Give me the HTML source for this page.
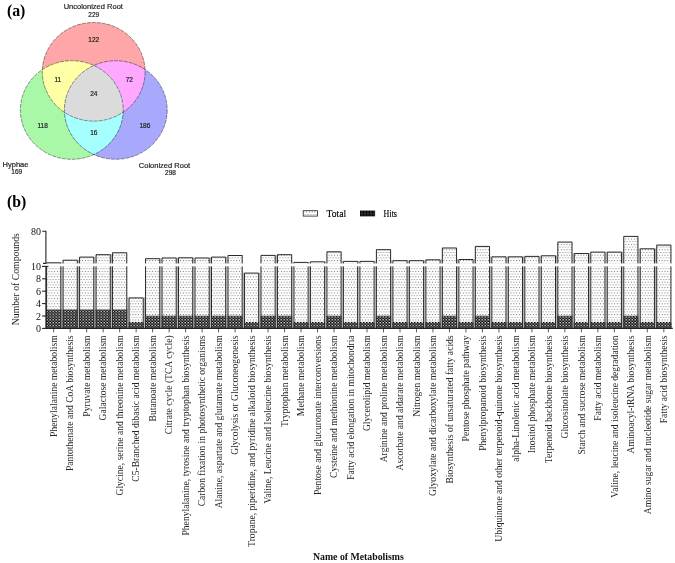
<!DOCTYPE html>
<html><head><meta charset="utf-8"><title>Figure</title>
<style>html,body{margin:0;padding:0;background:#fff;}body{width:675px;height:563px;overflow:hidden;}svg{display:block;will-change:transform;}</style>
</head><body><svg width="675" height="563" viewBox="0 0 675 563"><defs><clipPath id="cR"><ellipse cx="93.7" cy="71.8" rx="51.4" ry="49.3" /></clipPath><clipPath id="cG"><ellipse cx="71.8" cy="110" rx="51.4" ry="49.3" /></clipPath><clipPath id="cB"><ellipse cx="115.8" cy="110" rx="51.4" ry="49.3" /></clipPath><pattern id="dots" patternUnits="userSpaceOnUse" x="0" y="0" width="2.8" height="5.4"><rect width="2.8" height="5.4" fill="#fff"/><rect x="0.9" y="0.9" width="1" height="1" fill="#707070"/><rect x="2.3" y="3.6" width="1" height="1" fill="#808080"/><rect x="-0.5" y="3.6" width="1" height="1" fill="#808080"/></pattern><pattern id="hatch" patternUnits="userSpaceOnUse" x="0" y="0" width="3" height="2.8"><rect width="3" height="2.8" fill="#050505"/><rect x="1.5" y="0" width="1.4" height="1.3" fill="#eeeeee"/><rect x="0.1" y="1.4" width="1.3" height="1.2" fill="#a0a0a0"/></pattern><pattern id="hatchL" patternUnits="userSpaceOnUse" x="0" y="0" width="3" height="2.8"><rect width="3" height="2.8" fill="#0a0a0a"/><rect x="1.5" y="0.3" width="1" height="1" fill="#999"/></pattern></defs><g><ellipse cx="93.7" cy="71.8" rx="51.4" ry="49.3" fill="#ffa6a8"/><ellipse cx="71.8" cy="110" rx="51.4" ry="49.3" fill="#a8f8a8"/><ellipse cx="115.8" cy="110" rx="51.4" ry="49.3" fill="#a8a8fc"/><g clip-path="url(#cR)"><ellipse cx="71.8" cy="110" rx="51.4" ry="49.3" fill="#ffffa6"/></g><g clip-path="url(#cR)"><ellipse cx="115.8" cy="110" rx="51.4" ry="49.3" fill="#ffa8ff"/></g><g clip-path="url(#cG)"><ellipse cx="115.8" cy="110" rx="51.4" ry="49.3" fill="#a6ffff"/></g><g clip-path="url(#cR)"><g clip-path="url(#cG)"><ellipse cx="115.8" cy="110" rx="51.4" ry="49.3" fill="#dbdbdb"/></g></g><ellipse cx="93.7" cy="71.8" rx="51.4" ry="49.3" fill="none" stroke="rgba(0,0,0,0.55)" stroke-width="0.75" stroke-dasharray="4 1"/><ellipse cx="71.8" cy="110" rx="51.4" ry="49.3" fill="none" stroke="rgba(0,0,0,0.55)" stroke-width="0.75" stroke-dasharray="4 1"/><ellipse cx="115.8" cy="110" rx="51.4" ry="49.3" fill="none" stroke="rgba(0,0,0,0.55)" stroke-width="0.75" stroke-dasharray="4 1"/></g><text x="93.3" y="8.6" font-family="Liberation Sans, sans-serif" font-size="7.5" text-anchor="middle" fill="#1e1e1e" stroke="#1e1e1e" stroke-width="0.2" >Uncolonized Root</text><text x="93.7" y="16.6" font-family="Liberation Sans, sans-serif" font-size="6.5" text-anchor="middle" fill="#1e1e1e" stroke="#1e1e1e" stroke-width="0.2" >229</text><text x="15.5" y="166.9" font-family="Liberation Sans, sans-serif" font-size="7.5" text-anchor="middle" fill="#1e1e1e" stroke="#1e1e1e" stroke-width="0.2" >Hyphae</text><text x="16.7" y="174.4" font-family="Liberation Sans, sans-serif" font-size="6.5" text-anchor="middle" fill="#1e1e1e" stroke="#1e1e1e" stroke-width="0.2" >169</text><text x="164.5" y="167.5" font-family="Liberation Sans, sans-serif" font-size="7.5" text-anchor="middle" fill="#1e1e1e" stroke="#1e1e1e" stroke-width="0.2" >Colonized Root</text><text x="170.5" y="174.9" font-family="Liberation Sans, sans-serif" font-size="6.5" text-anchor="middle" fill="#1e1e1e" stroke="#1e1e1e" stroke-width="0.2" >298</text><text x="93.7" y="41.9" font-family="Liberation Sans, sans-serif" font-size="6.5" text-anchor="middle" fill="#1e1e1e" stroke="#1e1e1e" stroke-width="0.2" >122</text><text x="57.8" y="81.6" font-family="Liberation Sans, sans-serif" font-size="6.5" text-anchor="middle" fill="#1e1e1e" stroke="#1e1e1e" stroke-width="0.2" >11</text><text x="129.3" y="81.6" font-family="Liberation Sans, sans-serif" font-size="6.5" text-anchor="middle" fill="#1e1e1e" stroke="#1e1e1e" stroke-width="0.2" >72</text><text x="93.8" y="96" font-family="Liberation Sans, sans-serif" font-size="6.5" text-anchor="middle" fill="#1e1e1e" stroke="#1e1e1e" stroke-width="0.2" >24</text><text x="42.6" y="128.1" font-family="Liberation Sans, sans-serif" font-size="6.5" text-anchor="middle" fill="#1e1e1e" stroke="#1e1e1e" stroke-width="0.2" >118</text><text x="144.9" y="128.1" font-family="Liberation Sans, sans-serif" font-size="6.5" text-anchor="middle" fill="#1e1e1e" stroke="#1e1e1e" stroke-width="0.2" >186</text><text x="93.8" y="135.4" font-family="Liberation Sans, sans-serif" font-size="6.5" text-anchor="middle" fill="#1e1e1e" stroke="#1e1e1e" stroke-width="0.2" >16</text><text x="6.9" y="16.3" font-family="Liberation Serif, serif" font-size="15.8" text-anchor="start" fill="#000" font-weight="bold">(a)</text><text x="6.9" y="206.6" font-family="Liberation Serif, serif" font-size="15.8" text-anchor="start" fill="#000" font-weight="bold">(b)</text><rect x="61.3" y="262.3" width="1.29" height="1.1" fill="#b4b4b4"/><rect x="61.3" y="266.4" width="1.29" height="62" fill="#b4b4b4"/><rect x="77.79" y="259.7" width="1.29" height="3.7" fill="#b4b4b4"/><rect x="77.79" y="266.4" width="1.29" height="62" fill="#b4b4b4"/><rect x="94.28" y="256.6" width="1.29" height="6.8" fill="#b4b4b4"/><rect x="94.28" y="266.4" width="1.29" height="62" fill="#b4b4b4"/><rect x="110.77" y="254.2" width="1.29" height="9.2" fill="#b4b4b4"/><rect x="110.77" y="266.4" width="1.29" height="62" fill="#b4b4b4"/><rect x="127.26" y="297.4" width="1.29" height="31" fill="#b4b4b4"/><rect x="143.75" y="297.4" width="1.29" height="31" fill="#b4b4b4"/><rect x="160.24" y="258.2" width="1.29" height="5.2" fill="#b4b4b4"/><rect x="160.24" y="266.4" width="1.29" height="62" fill="#b4b4b4"/><rect x="176.73" y="257.5" width="1.29" height="5.9" fill="#b4b4b4"/><rect x="176.73" y="266.4" width="1.29" height="62" fill="#b4b4b4"/><rect x="193.22" y="257.5" width="1.29" height="5.9" fill="#b4b4b4"/><rect x="193.22" y="266.4" width="1.29" height="62" fill="#b4b4b4"/><rect x="209.71" y="257.5" width="1.29" height="5.9" fill="#b4b4b4"/><rect x="209.71" y="266.4" width="1.29" height="62" fill="#b4b4b4"/><rect x="226.2" y="256.6" width="1.29" height="6.8" fill="#b4b4b4"/><rect x="226.2" y="266.4" width="1.29" height="62" fill="#b4b4b4"/><rect x="242.69" y="272.6" width="1.29" height="55.8" fill="#b4b4b4"/><rect x="259.18" y="272.6" width="1.29" height="55.8" fill="#b4b4b4"/><rect x="275.67" y="254.9" width="1.29" height="8.5" fill="#b4b4b4"/><rect x="275.67" y="266.4" width="1.29" height="62" fill="#b4b4b4"/><rect x="292.16" y="261.9" width="1.29" height="1.5" fill="#b4b4b4"/><rect x="292.16" y="266.4" width="1.29" height="62" fill="#b4b4b4"/><rect x="308.65" y="261.9" width="1.29" height="1.5" fill="#b4b4b4"/><rect x="308.65" y="266.4" width="1.29" height="62" fill="#b4b4b4"/><rect x="325.14" y="261.3" width="1.29" height="2.1" fill="#b4b4b4"/><rect x="325.14" y="266.4" width="1.29" height="62" fill="#b4b4b4"/><rect x="341.63" y="260.9" width="1.29" height="2.5" fill="#b4b4b4"/><rect x="341.63" y="266.4" width="1.29" height="62" fill="#b4b4b4"/><rect x="358.12" y="260.9" width="1.29" height="2.5" fill="#b4b4b4"/><rect x="358.12" y="266.4" width="1.29" height="62" fill="#b4b4b4"/><rect x="374.61" y="260.9" width="1.29" height="2.5" fill="#b4b4b4"/><rect x="374.61" y="266.4" width="1.29" height="62" fill="#b4b4b4"/><rect x="391.1" y="260.2" width="1.29" height="3.2" fill="#b4b4b4"/><rect x="391.1" y="266.4" width="1.29" height="62" fill="#b4b4b4"/><rect x="407.59" y="260.2" width="1.29" height="3.2" fill="#b4b4b4"/><rect x="407.59" y="266.4" width="1.29" height="62" fill="#b4b4b4"/><rect x="424.08" y="260.2" width="1.29" height="3.2" fill="#b4b4b4"/><rect x="424.08" y="266.4" width="1.29" height="62" fill="#b4b4b4"/><rect x="440.57" y="259.3" width="1.29" height="4.1" fill="#b4b4b4"/><rect x="440.57" y="266.4" width="1.29" height="62" fill="#b4b4b4"/><rect x="457.06" y="259" width="1.29" height="4.4" fill="#b4b4b4"/><rect x="457.06" y="266.4" width="1.29" height="62" fill="#b4b4b4"/><rect x="473.55" y="259" width="1.29" height="4.4" fill="#b4b4b4"/><rect x="473.55" y="266.4" width="1.29" height="62" fill="#b4b4b4"/><rect x="490.04" y="256.3" width="1.29" height="7.1" fill="#b4b4b4"/><rect x="490.04" y="266.4" width="1.29" height="62" fill="#b4b4b4"/><rect x="506.53" y="256.3" width="1.29" height="7.1" fill="#b4b4b4"/><rect x="506.53" y="266.4" width="1.29" height="62" fill="#b4b4b4"/><rect x="523.02" y="256.3" width="1.29" height="7.1" fill="#b4b4b4"/><rect x="523.02" y="266.4" width="1.29" height="62" fill="#b4b4b4"/><rect x="539.51" y="255.9" width="1.29" height="7.5" fill="#b4b4b4"/><rect x="539.51" y="266.4" width="1.29" height="62" fill="#b4b4b4"/><rect x="556" y="255.3" width="1.29" height="8.1" fill="#b4b4b4"/><rect x="556" y="266.4" width="1.29" height="62" fill="#b4b4b4"/><rect x="572.49" y="253" width="1.29" height="10.4" fill="#b4b4b4"/><rect x="572.49" y="266.4" width="1.29" height="62" fill="#b4b4b4"/><rect x="588.98" y="253" width="1.29" height="10.4" fill="#b4b4b4"/><rect x="588.98" y="266.4" width="1.29" height="62" fill="#b4b4b4"/><rect x="605.47" y="251.6" width="1.29" height="11.8" fill="#b4b4b4"/><rect x="605.47" y="266.4" width="1.29" height="62" fill="#b4b4b4"/><rect x="621.96" y="251.6" width="1.29" height="11.8" fill="#b4b4b4"/><rect x="621.96" y="266.4" width="1.29" height="62" fill="#b4b4b4"/><rect x="638.45" y="248.3" width="1.29" height="15.1" fill="#b4b4b4"/><rect x="638.45" y="266.4" width="1.29" height="62" fill="#b4b4b4"/><rect x="654.94" y="248.3" width="1.29" height="15.1" fill="#b4b4b4"/><rect x="654.94" y="266.4" width="1.29" height="62" fill="#b4b4b4"/><rect x="46.1" y="262.3" width="15.2" height="1.1" fill="url(#dots)"/><path d="M46.6 263.4V262.8H60.8V263.4" fill="none" stroke="#2a2a2a" stroke-width="1"/><rect x="46.1" y="266.4" width="15.2" height="43.1" fill="url(#dots)"/><rect x="46.1" y="309.5" width="15.2" height="18.9" fill="url(#hatch)"/><path d="M46.6 266.4V328.4M60.8 266.4V328.4" fill="none" stroke="#2a2a2a" stroke-width="1"/><path d="M53.7 328.4V332.4" stroke="#333" stroke-width="0.8"/><text transform="translate(53.7 335.4) rotate(-90)" font-family="Liberation Serif, serif" font-size="9.6" text-anchor="end" fill="#262626" dy="0.33em">Phenylalanine metabolism</text><rect x="62.59" y="259.7" width="15.2" height="3.7" fill="url(#dots)"/><path d="M63.09 263.4V260.2H77.29V263.4" fill="none" stroke="#2a2a2a" stroke-width="1"/><rect x="62.59" y="266.4" width="15.2" height="43.1" fill="url(#dots)"/><rect x="62.59" y="309.5" width="15.2" height="18.9" fill="url(#hatch)"/><path d="M63.09 266.4V328.4M77.29 266.4V328.4" fill="none" stroke="#2a2a2a" stroke-width="1"/><path d="M70.19 328.4V332.4" stroke="#333" stroke-width="0.8"/><text transform="translate(70.19 335.4) rotate(-90)" font-family="Liberation Serif, serif" font-size="9.6" text-anchor="end" fill="#262626" dy="0.33em">Pantothenate and CoA biosynthesis</text><rect x="79.08" y="256.6" width="15.2" height="6.8" fill="url(#dots)"/><path d="M79.58 263.4V257.1H93.78V263.4" fill="none" stroke="#2a2a2a" stroke-width="1"/><rect x="79.08" y="266.4" width="15.2" height="43.1" fill="url(#dots)"/><rect x="79.08" y="309.5" width="15.2" height="18.9" fill="url(#hatch)"/><path d="M79.58 266.4V328.4M93.78 266.4V328.4" fill="none" stroke="#2a2a2a" stroke-width="1"/><path d="M86.68 328.4V332.4" stroke="#333" stroke-width="0.8"/><text transform="translate(86.68 335.4) rotate(-90)" font-family="Liberation Serif, serif" font-size="9.6" text-anchor="end" fill="#262626" dy="0.33em">Pyruvate metabolism</text><rect x="95.57" y="254.2" width="15.2" height="9.2" fill="url(#dots)"/><path d="M96.07 263.4V254.7H110.27V263.4" fill="none" stroke="#2a2a2a" stroke-width="1"/><rect x="95.57" y="266.4" width="15.2" height="43.1" fill="url(#dots)"/><rect x="95.57" y="309.5" width="15.2" height="18.9" fill="url(#hatch)"/><path d="M96.07 266.4V328.4M110.27 266.4V328.4" fill="none" stroke="#2a2a2a" stroke-width="1"/><path d="M103.17 328.4V332.4" stroke="#333" stroke-width="0.8"/><text transform="translate(103.17 335.4) rotate(-90)" font-family="Liberation Serif, serif" font-size="9.6" text-anchor="end" fill="#262626" dy="0.33em">Galactose metabolism</text><rect x="112.06" y="252.3" width="15.2" height="11.1" fill="url(#dots)"/><path d="M112.56 263.4V252.8H126.76V263.4" fill="none" stroke="#2a2a2a" stroke-width="1"/><rect x="112.06" y="266.4" width="15.2" height="43.1" fill="url(#dots)"/><rect x="112.06" y="309.5" width="15.2" height="18.9" fill="url(#hatch)"/><path d="M112.56 266.4V328.4M126.76 266.4V328.4" fill="none" stroke="#2a2a2a" stroke-width="1"/><path d="M119.66 328.4V332.4" stroke="#333" stroke-width="0.8"/><text transform="translate(119.66 335.4) rotate(-90)" font-family="Liberation Serif, serif" font-size="9.6" text-anchor="end" fill="#262626" dy="0.33em">Glycine, serine and threonine metabolism</text><rect x="128.55" y="297.4" width="15.2" height="24.5" fill="url(#dots)"/><rect x="128.55" y="321.9" width="15.2" height="6.5" fill="url(#hatch)"/><path d="M129.05 328.4V297.9H143.25V328.4" fill="none" stroke="#2a2a2a" stroke-width="1"/><path d="M136.15 328.4V332.4" stroke="#333" stroke-width="0.8"/><text transform="translate(136.15 335.4) rotate(-90)" font-family="Liberation Serif, serif" font-size="9.6" text-anchor="end" fill="#262626" dy="0.33em">C5-Branched dibasic acid metabolism</text><rect x="145.04" y="258.2" width="15.2" height="5.2" fill="url(#dots)"/><path d="M145.54 263.4V258.7H159.74V263.4" fill="none" stroke="#2a2a2a" stroke-width="1"/><rect x="145.04" y="266.4" width="15.2" height="49.3" fill="url(#dots)"/><rect x="145.04" y="315.7" width="15.2" height="12.7" fill="url(#hatch)"/><path d="M145.54 266.4V328.4M159.74 266.4V328.4" fill="none" stroke="#2a2a2a" stroke-width="1"/><path d="M152.64 328.4V332.4" stroke="#333" stroke-width="0.8"/><text transform="translate(152.64 335.4) rotate(-90)" font-family="Liberation Serif, serif" font-size="9.6" text-anchor="end" fill="#262626" dy="0.33em">Butanoate metabolism</text><rect x="161.53" y="257.5" width="15.2" height="5.9" fill="url(#dots)"/><path d="M162.03 263.4V258H176.23V263.4" fill="none" stroke="#2a2a2a" stroke-width="1"/><rect x="161.53" y="266.4" width="15.2" height="49.3" fill="url(#dots)"/><rect x="161.53" y="315.7" width="15.2" height="12.7" fill="url(#hatch)"/><path d="M162.03 266.4V328.4M176.23 266.4V328.4" fill="none" stroke="#2a2a2a" stroke-width="1"/><path d="M169.13 328.4V332.4" stroke="#333" stroke-width="0.8"/><text transform="translate(169.13 335.4) rotate(-90)" font-family="Liberation Serif, serif" font-size="9.6" text-anchor="end" fill="#262626" dy="0.33em">Citrate cycle (TCA cycle)</text><rect x="178.02" y="257.3" width="15.2" height="6.1" fill="url(#dots)"/><path d="M178.52 263.4V257.8H192.72V263.4" fill="none" stroke="#2a2a2a" stroke-width="1"/><rect x="178.02" y="266.4" width="15.2" height="49.3" fill="url(#dots)"/><rect x="178.02" y="315.7" width="15.2" height="12.7" fill="url(#hatch)"/><path d="M178.52 266.4V328.4M192.72 266.4V328.4" fill="none" stroke="#2a2a2a" stroke-width="1"/><path d="M185.62 328.4V332.4" stroke="#333" stroke-width="0.8"/><text transform="translate(185.62 335.4) rotate(-90)" font-family="Liberation Serif, serif" font-size="9.6" text-anchor="end" fill="#262626" dy="0.33em">Phenylalanine, tyrosine and tryptophan biosynthesis</text><rect x="194.51" y="257.5" width="15.2" height="5.9" fill="url(#dots)"/><path d="M195.01 263.4V258H209.21V263.4" fill="none" stroke="#2a2a2a" stroke-width="1"/><rect x="194.51" y="266.4" width="15.2" height="49.3" fill="url(#dots)"/><rect x="194.51" y="315.7" width="15.2" height="12.7" fill="url(#hatch)"/><path d="M195.01 266.4V328.4M209.21 266.4V328.4" fill="none" stroke="#2a2a2a" stroke-width="1"/><path d="M202.11 328.4V332.4" stroke="#333" stroke-width="0.8"/><text transform="translate(202.11 335.4) rotate(-90)" font-family="Liberation Serif, serif" font-size="9.6" text-anchor="end" fill="#262626" dy="0.33em">Carbon fixation in photosynthetic organisms</text><rect x="211" y="256.6" width="15.2" height="6.8" fill="url(#dots)"/><path d="M211.5 263.4V257.1H225.7V263.4" fill="none" stroke="#2a2a2a" stroke-width="1"/><rect x="211" y="266.4" width="15.2" height="49.3" fill="url(#dots)"/><rect x="211" y="315.7" width="15.2" height="12.7" fill="url(#hatch)"/><path d="M211.5 266.4V328.4M225.7 266.4V328.4" fill="none" stroke="#2a2a2a" stroke-width="1"/><path d="M218.6 328.4V332.4" stroke="#333" stroke-width="0.8"/><text transform="translate(218.6 335.4) rotate(-90)" font-family="Liberation Serif, serif" font-size="9.6" text-anchor="end" fill="#262626" dy="0.33em">Alanine, aspartate and glutamate metabolism</text><rect x="227.49" y="255" width="15.2" height="8.4" fill="url(#dots)"/><path d="M227.99 263.4V255.5H242.19V263.4" fill="none" stroke="#2a2a2a" stroke-width="1"/><rect x="227.49" y="266.4" width="15.2" height="49.3" fill="url(#dots)"/><rect x="227.49" y="315.7" width="15.2" height="12.7" fill="url(#hatch)"/><path d="M227.99 266.4V328.4M242.19 266.4V328.4" fill="none" stroke="#2a2a2a" stroke-width="1"/><path d="M235.09 328.4V332.4" stroke="#333" stroke-width="0.8"/><text transform="translate(235.09 335.4) rotate(-90)" font-family="Liberation Serif, serif" font-size="9.6" text-anchor="end" fill="#262626" dy="0.33em">Glycolysis or Gluconeogenesis</text><rect x="243.98" y="272.6" width="15.2" height="49.3" fill="url(#dots)"/><rect x="243.98" y="321.9" width="15.2" height="6.5" fill="url(#hatch)"/><path d="M244.48 328.4V273.1H258.68V328.4" fill="none" stroke="#2a2a2a" stroke-width="1"/><path d="M251.58 328.4V332.4" stroke="#333" stroke-width="0.8"/><text transform="translate(251.58 335.4) rotate(-90)" font-family="Liberation Serif, serif" font-size="9.6" text-anchor="end" fill="#262626" dy="0.33em">Tropane, piperidine, and pyridine alkaloid biosynthesis</text><rect x="260.47" y="254.9" width="15.2" height="8.5" fill="url(#dots)"/><path d="M260.97 263.4V255.4H275.17V263.4" fill="none" stroke="#2a2a2a" stroke-width="1"/><rect x="260.47" y="266.4" width="15.2" height="49.3" fill="url(#dots)"/><rect x="260.47" y="315.7" width="15.2" height="12.7" fill="url(#hatch)"/><path d="M260.97 266.4V328.4M275.17 266.4V328.4" fill="none" stroke="#2a2a2a" stroke-width="1"/><path d="M268.07 328.4V332.4" stroke="#333" stroke-width="0.8"/><text transform="translate(268.07 335.4) rotate(-90)" font-family="Liberation Serif, serif" font-size="9.6" text-anchor="end" fill="#262626" dy="0.33em">Valine, Leucine and Isoleucine biosynthesis</text><rect x="276.96" y="254.2" width="15.2" height="9.2" fill="url(#dots)"/><path d="M277.46 263.4V254.7H291.66V263.4" fill="none" stroke="#2a2a2a" stroke-width="1"/><rect x="276.96" y="266.4" width="15.2" height="49.3" fill="url(#dots)"/><rect x="276.96" y="315.7" width="15.2" height="12.7" fill="url(#hatch)"/><path d="M277.46 266.4V328.4M291.66 266.4V328.4" fill="none" stroke="#2a2a2a" stroke-width="1"/><path d="M284.56 328.4V332.4" stroke="#333" stroke-width="0.8"/><text transform="translate(284.56 335.4) rotate(-90)" font-family="Liberation Serif, serif" font-size="9.6" text-anchor="end" fill="#262626" dy="0.33em">Tryptophan metabolism</text><rect x="293.45" y="261.9" width="15.2" height="1.5" fill="url(#dots)"/><path d="M293.95 263.4V262.4H308.15V263.4" fill="none" stroke="#2a2a2a" stroke-width="1"/><rect x="293.45" y="266.4" width="15.2" height="55.5" fill="url(#dots)"/><rect x="293.45" y="321.9" width="15.2" height="6.5" fill="url(#hatch)"/><path d="M293.95 266.4V328.4M308.15 266.4V328.4" fill="none" stroke="#2a2a2a" stroke-width="1"/><path d="M301.05 328.4V332.4" stroke="#333" stroke-width="0.8"/><text transform="translate(301.05 335.4) rotate(-90)" font-family="Liberation Serif, serif" font-size="9.6" text-anchor="end" fill="#262626" dy="0.33em">Methane metabolism</text><rect x="309.94" y="261.3" width="15.2" height="2.1" fill="url(#dots)"/><path d="M310.44 263.4V261.8H324.64V263.4" fill="none" stroke="#2a2a2a" stroke-width="1"/><rect x="309.94" y="266.4" width="15.2" height="55.5" fill="url(#dots)"/><rect x="309.94" y="321.9" width="15.2" height="6.5" fill="url(#hatch)"/><path d="M310.44 266.4V328.4M324.64 266.4V328.4" fill="none" stroke="#2a2a2a" stroke-width="1"/><path d="M317.54 328.4V332.4" stroke="#333" stroke-width="0.8"/><text transform="translate(317.54 335.4) rotate(-90)" font-family="Liberation Serif, serif" font-size="9.6" text-anchor="end" fill="#262626" dy="0.33em">Pentose and glucuronate interconversions</text><rect x="326.43" y="251.3" width="15.2" height="12.1" fill="url(#dots)"/><path d="M326.93 263.4V251.8H341.13V263.4" fill="none" stroke="#2a2a2a" stroke-width="1"/><rect x="326.43" y="266.4" width="15.2" height="49.3" fill="url(#dots)"/><rect x="326.43" y="315.7" width="15.2" height="12.7" fill="url(#hatch)"/><path d="M326.93 266.4V328.4M341.13 266.4V328.4" fill="none" stroke="#2a2a2a" stroke-width="1"/><path d="M334.03 328.4V332.4" stroke="#333" stroke-width="0.8"/><text transform="translate(334.03 335.4) rotate(-90)" font-family="Liberation Serif, serif" font-size="9.6" text-anchor="end" fill="#262626" dy="0.33em">Cysteine and methionine metabolism</text><rect x="342.92" y="260.9" width="15.2" height="2.5" fill="url(#dots)"/><path d="M343.42 263.4V261.4H357.62V263.4" fill="none" stroke="#2a2a2a" stroke-width="1"/><rect x="342.92" y="266.4" width="15.2" height="55.5" fill="url(#dots)"/><rect x="342.92" y="321.9" width="15.2" height="6.5" fill="url(#hatch)"/><path d="M343.42 266.4V328.4M357.62 266.4V328.4" fill="none" stroke="#2a2a2a" stroke-width="1"/><path d="M350.52 328.4V332.4" stroke="#333" stroke-width="0.8"/><text transform="translate(350.52 335.4) rotate(-90)" font-family="Liberation Serif, serif" font-size="9.6" text-anchor="end" fill="#262626" dy="0.33em">Fatty acid elongation in mitochondria</text><rect x="359.41" y="260.9" width="15.2" height="2.5" fill="url(#dots)"/><path d="M359.91 263.4V261.4H374.11V263.4" fill="none" stroke="#2a2a2a" stroke-width="1"/><rect x="359.41" y="266.4" width="15.2" height="55.5" fill="url(#dots)"/><rect x="359.41" y="321.9" width="15.2" height="6.5" fill="url(#hatch)"/><path d="M359.91 266.4V328.4M374.11 266.4V328.4" fill="none" stroke="#2a2a2a" stroke-width="1"/><path d="M367.01 328.4V332.4" stroke="#333" stroke-width="0.8"/><text transform="translate(367.01 335.4) rotate(-90)" font-family="Liberation Serif, serif" font-size="9.6" text-anchor="end" fill="#262626" dy="0.33em">Glycerolipid metabolism</text><rect x="375.9" y="249.2" width="15.2" height="14.2" fill="url(#dots)"/><path d="M376.4 263.4V249.7H390.6V263.4" fill="none" stroke="#2a2a2a" stroke-width="1"/><rect x="375.9" y="266.4" width="15.2" height="49.3" fill="url(#dots)"/><rect x="375.9" y="315.7" width="15.2" height="12.7" fill="url(#hatch)"/><path d="M376.4 266.4V328.4M390.6 266.4V328.4" fill="none" stroke="#2a2a2a" stroke-width="1"/><path d="M383.5 328.4V332.4" stroke="#333" stroke-width="0.8"/><text transform="translate(383.5 335.4) rotate(-90)" font-family="Liberation Serif, serif" font-size="9.6" text-anchor="end" fill="#262626" dy="0.33em">Arginine and proline metabolism</text><rect x="392.39" y="260.2" width="15.2" height="3.2" fill="url(#dots)"/><path d="M392.89 263.4V260.7H407.09V263.4" fill="none" stroke="#2a2a2a" stroke-width="1"/><rect x="392.39" y="266.4" width="15.2" height="55.5" fill="url(#dots)"/><rect x="392.39" y="321.9" width="15.2" height="6.5" fill="url(#hatch)"/><path d="M392.89 266.4V328.4M407.09 266.4V328.4" fill="none" stroke="#2a2a2a" stroke-width="1"/><path d="M399.99 328.4V332.4" stroke="#333" stroke-width="0.8"/><text transform="translate(399.99 335.4) rotate(-90)" font-family="Liberation Serif, serif" font-size="9.6" text-anchor="end" fill="#262626" dy="0.33em">Ascorbate and aldarate metabolism</text><rect x="408.88" y="260.2" width="15.2" height="3.2" fill="url(#dots)"/><path d="M409.38 263.4V260.7H423.58V263.4" fill="none" stroke="#2a2a2a" stroke-width="1"/><rect x="408.88" y="266.4" width="15.2" height="55.5" fill="url(#dots)"/><rect x="408.88" y="321.9" width="15.2" height="6.5" fill="url(#hatch)"/><path d="M409.38 266.4V328.4M423.58 266.4V328.4" fill="none" stroke="#2a2a2a" stroke-width="1"/><path d="M416.48 328.4V332.4" stroke="#333" stroke-width="0.8"/><text transform="translate(416.48 335.4) rotate(-90)" font-family="Liberation Serif, serif" font-size="9.6" text-anchor="end" fill="#262626" dy="0.33em">Nitrogen metabolism</text><rect x="425.37" y="259.3" width="15.2" height="4.1" fill="url(#dots)"/><path d="M425.87 263.4V259.8H440.07V263.4" fill="none" stroke="#2a2a2a" stroke-width="1"/><rect x="425.37" y="266.4" width="15.2" height="55.5" fill="url(#dots)"/><rect x="425.37" y="321.9" width="15.2" height="6.5" fill="url(#hatch)"/><path d="M425.87 266.4V328.4M440.07 266.4V328.4" fill="none" stroke="#2a2a2a" stroke-width="1"/><path d="M432.97 328.4V332.4" stroke="#333" stroke-width="0.8"/><text transform="translate(432.97 335.4) rotate(-90)" font-family="Liberation Serif, serif" font-size="9.6" text-anchor="end" fill="#262626" dy="0.33em">Glyoxylate and dicarboxylate metabolism</text><rect x="441.86" y="247.5" width="15.2" height="15.9" fill="url(#dots)"/><path d="M442.36 263.4V248H456.56V263.4" fill="none" stroke="#2a2a2a" stroke-width="1"/><rect x="441.86" y="266.4" width="15.2" height="49.3" fill="url(#dots)"/><rect x="441.86" y="315.7" width="15.2" height="12.7" fill="url(#hatch)"/><path d="M442.36 266.4V328.4M456.56 266.4V328.4" fill="none" stroke="#2a2a2a" stroke-width="1"/><path d="M449.46 328.4V332.4" stroke="#333" stroke-width="0.8"/><text transform="translate(449.46 335.4) rotate(-90)" font-family="Liberation Serif, serif" font-size="9.6" text-anchor="end" fill="#262626" dy="0.33em">Biosynthesis of unsaturated fatty acids</text><rect x="458.35" y="259" width="15.2" height="4.4" fill="url(#dots)"/><path d="M458.85 263.4V259.5H473.05V263.4" fill="none" stroke="#2a2a2a" stroke-width="1"/><rect x="458.35" y="266.4" width="15.2" height="55.5" fill="url(#dots)"/><rect x="458.35" y="321.9" width="15.2" height="6.5" fill="url(#hatch)"/><path d="M458.85 266.4V328.4M473.05 266.4V328.4" fill="none" stroke="#2a2a2a" stroke-width="1"/><path d="M465.95 328.4V332.4" stroke="#333" stroke-width="0.8"/><text transform="translate(465.95 335.4) rotate(-90)" font-family="Liberation Serif, serif" font-size="9.6" text-anchor="end" fill="#262626" dy="0.33em">Pentose phosphate pathway</text><rect x="474.84" y="245.9" width="15.2" height="17.5" fill="url(#dots)"/><path d="M475.34 263.4V246.4H489.54V263.4" fill="none" stroke="#2a2a2a" stroke-width="1"/><rect x="474.84" y="266.4" width="15.2" height="49.3" fill="url(#dots)"/><rect x="474.84" y="315.7" width="15.2" height="12.7" fill="url(#hatch)"/><path d="M475.34 266.4V328.4M489.54 266.4V328.4" fill="none" stroke="#2a2a2a" stroke-width="1"/><path d="M482.44 328.4V332.4" stroke="#333" stroke-width="0.8"/><text transform="translate(482.44 335.4) rotate(-90)" font-family="Liberation Serif, serif" font-size="9.6" text-anchor="end" fill="#262626" dy="0.33em">Phenylpropanoid biosynthesis</text><rect x="491.33" y="256.3" width="15.2" height="7.1" fill="url(#dots)"/><path d="M491.83 263.4V256.8H506.03V263.4" fill="none" stroke="#2a2a2a" stroke-width="1"/><rect x="491.33" y="266.4" width="15.2" height="55.5" fill="url(#dots)"/><rect x="491.33" y="321.9" width="15.2" height="6.5" fill="url(#hatch)"/><path d="M491.83 266.4V328.4M506.03 266.4V328.4" fill="none" stroke="#2a2a2a" stroke-width="1"/><path d="M498.93 328.4V332.4" stroke="#333" stroke-width="0.8"/><text transform="translate(498.93 335.4) rotate(-90)" font-family="Liberation Serif, serif" font-size="9.6" text-anchor="end" fill="#262626" dy="0.33em">Ubiquinone and other terpenoid-quinone biosynthesis</text><rect x="507.82" y="256.3" width="15.2" height="7.1" fill="url(#dots)"/><path d="M508.32 263.4V256.8H522.52V263.4" fill="none" stroke="#2a2a2a" stroke-width="1"/><rect x="507.82" y="266.4" width="15.2" height="55.5" fill="url(#dots)"/><rect x="507.82" y="321.9" width="15.2" height="6.5" fill="url(#hatch)"/><path d="M508.32 266.4V328.4M522.52 266.4V328.4" fill="none" stroke="#2a2a2a" stroke-width="1"/><path d="M515.42 328.4V332.4" stroke="#333" stroke-width="0.8"/><text transform="translate(515.42 335.4) rotate(-90)" font-family="Liberation Serif, serif" font-size="9.6" text-anchor="end" fill="#262626" dy="0.33em">alpha-Linolenic acid metabolism</text><rect x="524.31" y="255.9" width="15.2" height="7.5" fill="url(#dots)"/><path d="M524.81 263.4V256.4H539.01V263.4" fill="none" stroke="#2a2a2a" stroke-width="1"/><rect x="524.31" y="266.4" width="15.2" height="55.5" fill="url(#dots)"/><rect x="524.31" y="321.9" width="15.2" height="6.5" fill="url(#hatch)"/><path d="M524.81 266.4V328.4M539.01 266.4V328.4" fill="none" stroke="#2a2a2a" stroke-width="1"/><path d="M531.91 328.4V332.4" stroke="#333" stroke-width="0.8"/><text transform="translate(531.91 335.4) rotate(-90)" font-family="Liberation Serif, serif" font-size="9.6" text-anchor="end" fill="#262626" dy="0.33em">Inositol phosphate metabolism</text><rect x="540.8" y="255.3" width="15.2" height="8.1" fill="url(#dots)"/><path d="M541.3 263.4V255.8H555.5V263.4" fill="none" stroke="#2a2a2a" stroke-width="1"/><rect x="540.8" y="266.4" width="15.2" height="55.5" fill="url(#dots)"/><rect x="540.8" y="321.9" width="15.2" height="6.5" fill="url(#hatch)"/><path d="M541.3 266.4V328.4M555.5 266.4V328.4" fill="none" stroke="#2a2a2a" stroke-width="1"/><path d="M548.4 328.4V332.4" stroke="#333" stroke-width="0.8"/><text transform="translate(548.4 335.4) rotate(-90)" font-family="Liberation Serif, serif" font-size="9.6" text-anchor="end" fill="#262626" dy="0.33em">Terpenoid backbone biosynthesis</text><rect x="557.29" y="241.6" width="15.2" height="21.8" fill="url(#dots)"/><path d="M557.79 263.4V242.1H571.99V263.4" fill="none" stroke="#2a2a2a" stroke-width="1"/><rect x="557.29" y="266.4" width="15.2" height="49.3" fill="url(#dots)"/><rect x="557.29" y="315.7" width="15.2" height="12.7" fill="url(#hatch)"/><path d="M557.79 266.4V328.4M571.99 266.4V328.4" fill="none" stroke="#2a2a2a" stroke-width="1"/><path d="M564.89 328.4V332.4" stroke="#333" stroke-width="0.8"/><text transform="translate(564.89 335.4) rotate(-90)" font-family="Liberation Serif, serif" font-size="9.6" text-anchor="end" fill="#262626" dy="0.33em">Glucosinolate biosynthesis</text><rect x="573.78" y="253" width="15.2" height="10.4" fill="url(#dots)"/><path d="M574.28 263.4V253.5H588.48V263.4" fill="none" stroke="#2a2a2a" stroke-width="1"/><rect x="573.78" y="266.4" width="15.2" height="55.5" fill="url(#dots)"/><rect x="573.78" y="321.9" width="15.2" height="6.5" fill="url(#hatch)"/><path d="M574.28 266.4V328.4M588.48 266.4V328.4" fill="none" stroke="#2a2a2a" stroke-width="1"/><path d="M581.38 328.4V332.4" stroke="#333" stroke-width="0.8"/><text transform="translate(581.38 335.4) rotate(-90)" font-family="Liberation Serif, serif" font-size="9.6" text-anchor="end" fill="#262626" dy="0.33em">Starch and sucrose metabolism</text><rect x="590.27" y="251.6" width="15.2" height="11.8" fill="url(#dots)"/><path d="M590.77 263.4V252.1H604.97V263.4" fill="none" stroke="#2a2a2a" stroke-width="1"/><rect x="590.27" y="266.4" width="15.2" height="55.5" fill="url(#dots)"/><rect x="590.27" y="321.9" width="15.2" height="6.5" fill="url(#hatch)"/><path d="M590.77 266.4V328.4M604.97 266.4V328.4" fill="none" stroke="#2a2a2a" stroke-width="1"/><path d="M597.87 328.4V332.4" stroke="#333" stroke-width="0.8"/><text transform="translate(597.87 335.4) rotate(-90)" font-family="Liberation Serif, serif" font-size="9.6" text-anchor="end" fill="#262626" dy="0.33em">Fatty acid metabolism</text><rect x="606.76" y="251.6" width="15.2" height="11.8" fill="url(#dots)"/><path d="M607.26 263.4V252.1H621.46V263.4" fill="none" stroke="#2a2a2a" stroke-width="1"/><rect x="606.76" y="266.4" width="15.2" height="55.5" fill="url(#dots)"/><rect x="606.76" y="321.9" width="15.2" height="6.5" fill="url(#hatch)"/><path d="M607.26 266.4V328.4M621.46 266.4V328.4" fill="none" stroke="#2a2a2a" stroke-width="1"/><path d="M614.36 328.4V332.4" stroke="#333" stroke-width="0.8"/><text transform="translate(614.36 335.4) rotate(-90)" font-family="Liberation Serif, serif" font-size="9.6" text-anchor="end" fill="#262626" dy="0.33em">Valine, leucine and isoleucine degradation</text><rect x="623.25" y="235.9" width="15.2" height="27.5" fill="url(#dots)"/><path d="M623.75 263.4V236.4H637.95V263.4" fill="none" stroke="#2a2a2a" stroke-width="1"/><rect x="623.25" y="266.4" width="15.2" height="49.3" fill="url(#dots)"/><rect x="623.25" y="315.7" width="15.2" height="12.7" fill="url(#hatch)"/><path d="M623.75 266.4V328.4M637.95 266.4V328.4" fill="none" stroke="#2a2a2a" stroke-width="1"/><path d="M630.85 328.4V332.4" stroke="#333" stroke-width="0.8"/><text transform="translate(630.85 335.4) rotate(-90)" font-family="Liberation Serif, serif" font-size="9.6" text-anchor="end" fill="#262626" dy="0.33em">Aminoacyl-tRNA biosynthesis</text><rect x="639.74" y="248.3" width="15.2" height="15.1" fill="url(#dots)"/><path d="M640.24 263.4V248.8H654.44V263.4" fill="none" stroke="#2a2a2a" stroke-width="1"/><rect x="639.74" y="266.4" width="15.2" height="55.5" fill="url(#dots)"/><rect x="639.74" y="321.9" width="15.2" height="6.5" fill="url(#hatch)"/><path d="M640.24 266.4V328.4M654.44 266.4V328.4" fill="none" stroke="#2a2a2a" stroke-width="1"/><path d="M647.34 328.4V332.4" stroke="#333" stroke-width="0.8"/><text transform="translate(647.34 335.4) rotate(-90)" font-family="Liberation Serif, serif" font-size="9.6" text-anchor="end" fill="#262626" dy="0.33em">Amino sugar and nucleotide sugar metabolism</text><rect x="656.23" y="244.6" width="15.2" height="18.8" fill="url(#dots)"/><path d="M656.73 263.4V245.1H670.93V263.4" fill="none" stroke="#2a2a2a" stroke-width="1"/><rect x="656.23" y="266.4" width="15.2" height="55.5" fill="url(#dots)"/><rect x="656.23" y="321.9" width="15.2" height="6.5" fill="url(#hatch)"/><path d="M656.73 266.4V328.4M670.93 266.4V328.4" fill="none" stroke="#2a2a2a" stroke-width="1"/><path d="M663.83 328.4V332.4" stroke="#333" stroke-width="0.8"/><text transform="translate(663.83 335.4) rotate(-90)" font-family="Liberation Serif, serif" font-size="9.6" text-anchor="end" fill="#262626" dy="0.33em">Fatty acid biosynthesis</text><path d="M45.9 230.7V263.9" stroke="#222" stroke-width="1.1"/><path d="M42.2 231.2H45.9M43 263.4H45.9" stroke="#222" stroke-width="1.1"/><path d="M45.9 265.9V328.4H672.8" fill="none" stroke="#222" stroke-width="1.1"/><path d="M42 266.4H48.4" stroke="#222" stroke-width="1.1"/><path d="M42.1 328.4H45.9" stroke="#222" stroke-width="1.1"/><text x="41.1" y="331.9" font-family="Liberation Serif, serif" font-size="10" text-anchor="end" fill="#111" >0</text><path d="M42.1 316H45.9" stroke="#222" stroke-width="1.1"/><text x="41.1" y="319.5" font-family="Liberation Serif, serif" font-size="10" text-anchor="end" fill="#111" >2</text><path d="M42.1 303.6H45.9" stroke="#222" stroke-width="1.1"/><text x="41.1" y="307.1" font-family="Liberation Serif, serif" font-size="10" text-anchor="end" fill="#111" >4</text><path d="M42.1 291.2H45.9" stroke="#222" stroke-width="1.1"/><text x="41.1" y="294.7" font-family="Liberation Serif, serif" font-size="10" text-anchor="end" fill="#111" >6</text><path d="M42.1 278.8H45.9" stroke="#222" stroke-width="1.1"/><text x="41.1" y="282.3" font-family="Liberation Serif, serif" font-size="10" text-anchor="end" fill="#111" >8</text><text x="41.1" y="270" font-family="Liberation Serif, serif" font-size="10" text-anchor="end" fill="#111" >10</text><text x="41.1" y="234.6" font-family="Liberation Serif, serif" font-size="10" text-anchor="end" fill="#111" >80</text><text transform="translate(18.7 279.2) rotate(-90)" font-family="Liberation Serif, serif" font-size="9.75" text-anchor="middle" fill="#1a1a1a">Number of Compounds</text><text x="358.4" y="560.2" font-family="Liberation Serif, serif" font-size="9.8" text-anchor="middle" fill="#111" font-weight="bold">Name of Metabolisms</text><rect x="303.2" y="210.7" width="14.3" height="5.4" fill="url(#dots)" stroke="#222" stroke-width="0.8"/><text x="326.5" y="216.8" font-family="Liberation Serif, serif" font-size="9.8" text-anchor="start" fill="#000" stroke="#000" stroke-width="0.15" textLength="19.6" lengthAdjust="spacingAndGlyphs">Total</text><rect x="360" y="210.5" width="15.1" height="5.9" fill="url(#hatchL)"/><text x="383.6" y="216.8" font-family="Liberation Serif, serif" font-size="9.6" text-anchor="start" fill="#000" stroke="#000" stroke-width="0.15" textLength="13.4" lengthAdjust="spacingAndGlyphs">Hits</text></svg></body></html>
